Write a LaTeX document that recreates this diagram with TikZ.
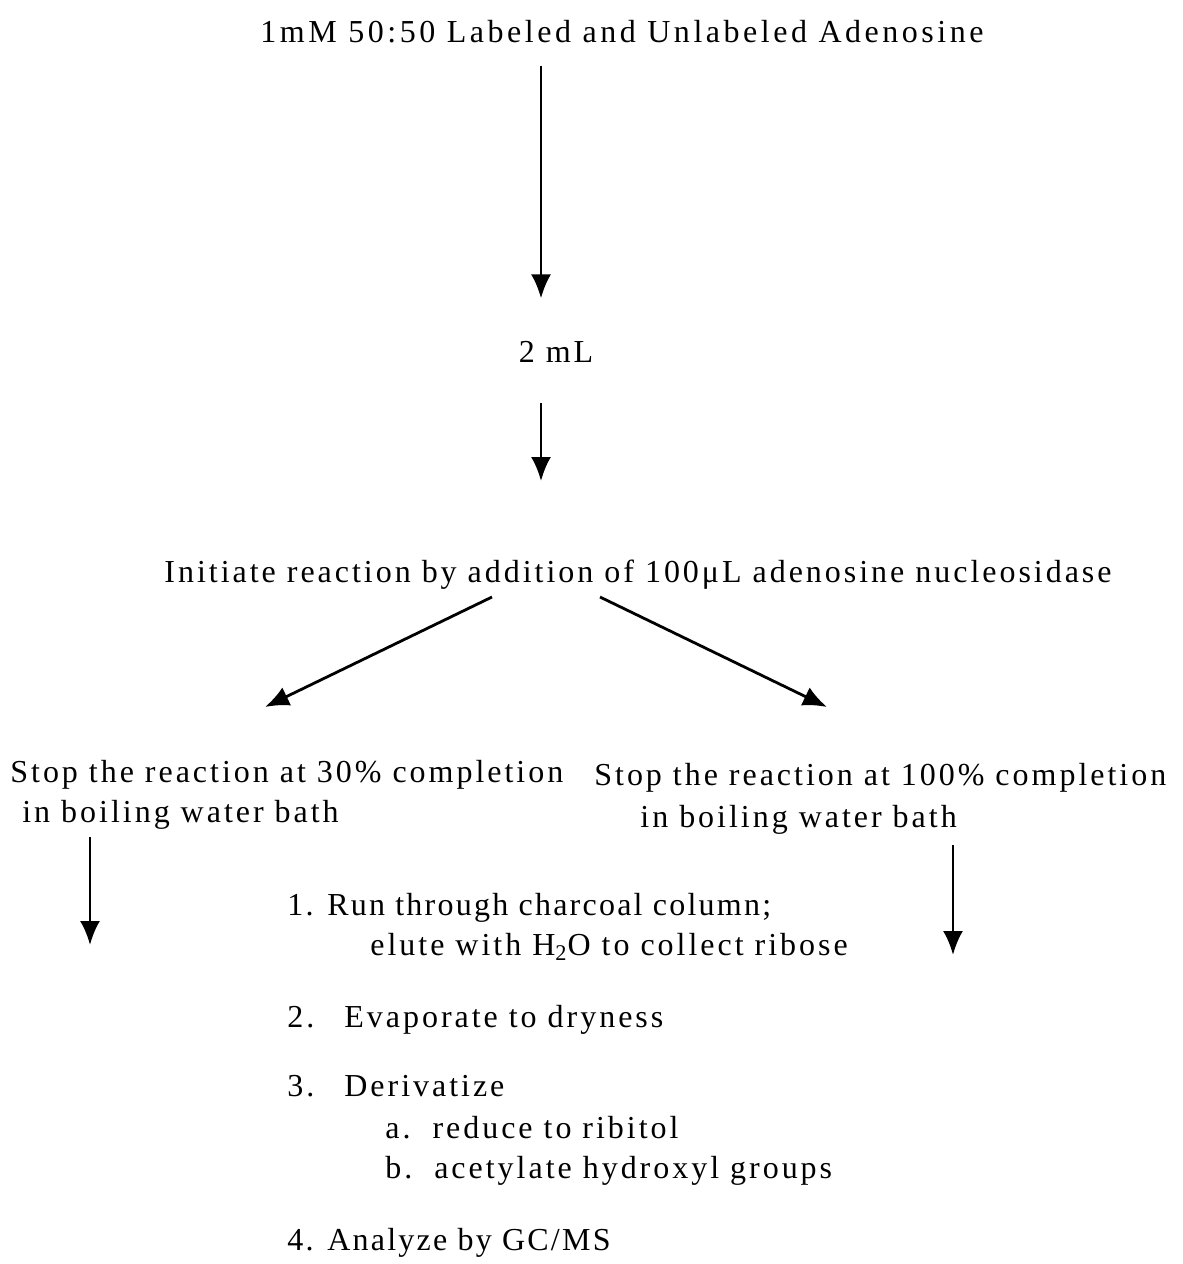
\documentclass[tikz,border=0pt]{standalone}
\usepackage{fontspec}
\setmainfont{Liberation Serif}[LetterSpace=9.3]
\usetikzlibrary{arrows.meta}

\begin{document}
\begin{tikzpicture}[x=0.5pt, y=-0.5pt,
    every node/.style={font=\fontsize{16}{20}\selectfont, inner sep=0pt},
    arr/.style={line width=1.4pt, -{Latex[length=12pt, width=10pt]}}]
        \useasboundingbox (0,0) rectangle (1183,1264);

        % Column of the main arrows
        \coordinate (col) at (541,0);

        % Top of the flow
        \node[anchor=base] (stock) at (622,42)
            {\addfontfeature{LetterSpace=11}1mM 50:50 Labeled and Unlabeled Adenosine};
        \node[anchor=base] (vol) at (556,362) {2 mL};
        \node[anchor=base] (init) at (638,582) {Initiate reaction by addition of 100μL adenosine nucleosidase};

        \draw[arr, shorten <=11.5pt, shorten >=21pt] (stock.south -| col) -- (vol.north -| col);
        \draw[arr, shorten <=20.5pt, shorten >=39pt] (vol.south -| col) -- (init.north -| col);

        % Split into two runs
        \coordinate (splitL) at (492,597);
        \coordinate (splitR) at (600,597);
        \coordinate (endL) at (265,707);
        \coordinate (endR) at (827,707);
        \draw[arr] (splitL) -- (endL);
        \draw[arr] (splitR) -- (endR);

        % base = last line
        \node[anchor=base west, align=left] (stopL) at (10,822)
            {Stop the reaction at 30\% completion\\\hspace*{6pt}in boiling water bath};
        \node[anchor=base west, align=left] (stopR) at (594,827)
            {Stop the reaction at 100\% completion\\[1pt]\hspace*{23pt}in boiling water bath};

        % Down arrows
        \coordinate (dropL) at (90,945);
        \coordinate (dropR) at (953,955);
        \draw[arr, shorten <=4pt] (stopL.south -| dropL) -- (dropL);
        \draw[arr, shorten <=5.5pt] (stopR.south -| dropR) -- (dropR);

        % Work-up steps
        \node[anchor=base west, align=left] (step1) at (287,955)
            {{\addfontfeature{LetterSpace=7}1. Run through charcoal column;}\\
             \hspace*{41.5pt}elute with H\textsubscript{2}O to collect ribose};
        \node[anchor=base west] (step2) at (287,1027) {2.\hspace{15pt}Evaporate to dryness};
        \node[anchor=base west, align=left] (step3) at (287,1178)
            {3.\hspace{15pt}Derivatize\\[1pt]\hspace*{49pt}a.\ \ reduce to ribitol\\\hspace*{49pt}b.\ \ acetylate hydroxyl groups};
        \node[anchor=base west] (step4) at (287,1250)
            {\addfontfeature{LetterSpace=7}4. Analyze by GC/MS};
    \end{tikzpicture}
\end{document}
